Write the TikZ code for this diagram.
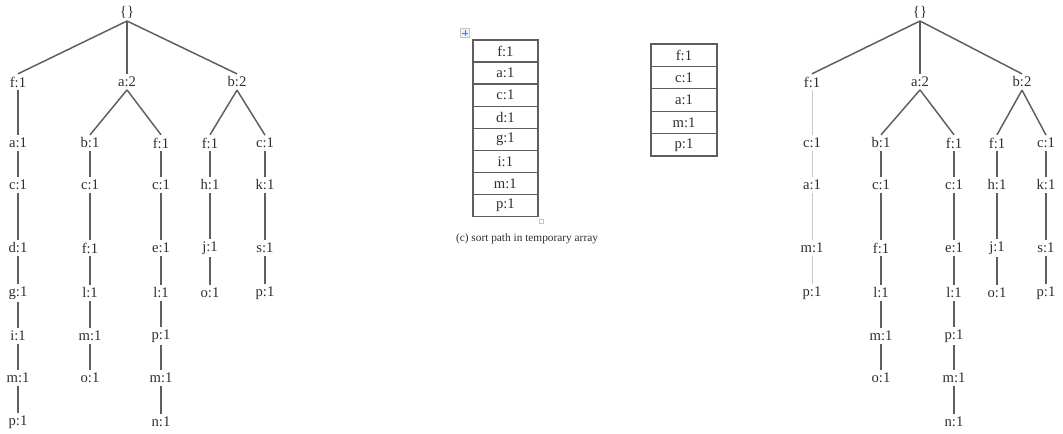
\documentclass[tikz,border=0pt]{standalone}
\usepackage{fontspec}
\setmainfont{Liberation Serif}
\usetikzlibrary{positioning}
\definecolor{LineGray}{HTML}{5E5E5E}
\definecolor{TextGray}{HTML}{2E2E2E}
\definecolor{PaleGray}{HTML}{C6C6C6}
\definecolor{HandleBlue}{HTML}{4A78C8}

\begin{document}
\begin{tikzpicture}[x=0.75pt, y=-0.75pt,
    lbl/.style={font=\fontsize{11}{13}\selectfont, text=TextGray, inner sep=2pt},
    edge/.style={draw=LineGray, line width=1.1pt},
    newedge/.style={draw=PaleGray, line width=0.7pt},
    cell/.style={lbl, draw=LineGray, line width=1pt, minimum width=48.75pt, minimum height=16.6pt},
  ]
  \useasboundingbox (0,0) rectangle (1063,434);
  \def\lvly{{82,143,185,248,293,336,378,422}}

  % left tree
  \node[lbl] (lroot) at (127,12) {\{\}};
  \node[lbl] (la) at (127,82) {a:2};
  \node[lbl] (lb) at (237,82) {b:2};
  \foreach \t [count=\i] in {f:1,a:1,c:1,d:1,g:1,i:1,m:1,p:1}
    {\pgfmathsetmacro\yy{\lvly[\i-1]} \node[lbl] (lA\i) at (18,\yy) {\t};}
  \foreach \t [count=\i from 2] in {b:1,c:1,f:1,l:1,m:1,o:1}
    {\pgfmathsetmacro\yy{\lvly[\i-1]} \node[lbl] (lB\i) at (90,\yy) {\t};}
  \foreach \t [count=\i from 2] in {f:1,c:1,e:1,l:1,p:1,m:1,n:1}
    {\pgfmathsetmacro\yy{\lvly[\i-1]} \node[lbl] (lC\i) at (161,\yy) {\t};}
  \foreach \t [count=\i from 2] in {f:1,h:1,j:1,o:1}
    {\pgfmathsetmacro\yy{\lvly[\i-1]} \node[lbl] (lD\i) at (210,\yy) {\t};}
  \foreach \t [count=\i from 2] in {c:1,k:1,s:1,p:1}
    {\pgfmathsetmacro\yy{\lvly[\i-1]} \node[lbl] (lE\i) at (265,\yy) {\t};}

  \foreach \v in {lA1,la,lb} \draw[edge] (lroot.south) -- (\v.north);
  \foreach \u/\v in {la/lB2,la/lC2,lb/lD2,lb/lE2} \draw[edge] (\u.south) -- (\v.north);
  \foreach \c/\s/\e in {A/1/7,B/2/6,C/2/7,D/2/4,E/2/4}
    {\foreach \i in {\s,...,\e}
      {\pgfmathtruncatemacro\j{\i+1} \draw[edge] (l\c\i.south) -- (l\c\j.north);}}

  % temporary arrays
  \foreach \t [count=\i] in {f:1,a:1,c:1,d:1,g:1,i:1,m:1,p:1}
    \node[cell] (tA\i) at (505.4,{51+22.1*(\i-1)}) {\t};
  \foreach \t [count=\i] in {f:1,c:1,a:1,m:1,p:1}
    \node[cell, minimum width=49.5pt, minimum height=16.8pt] (tB\i) at (684,{55.2+22.4*(\i-1)}) {\t};
  \node[draw=PaleGray, fill=gray!12, minimum size=6.5pt, inner sep=0pt] (move) at (465,33) {};
  \draw[HandleBlue, line width=0.6pt] ([yshift=-1.5pt]move.north) -- ([yshift=1.5pt]move.south)
    ([xshift=1.5pt]move.west) -- ([xshift=-1.5pt]move.east);
  \node[draw=PaleGray, minimum size=3pt, inner sep=0pt] (grip) at (541,221) {};
  \node[font=\fontsize{8.5}{10}\selectfont, text=TextGray] (cap) at (527,239) {(c) sort path in temporary array};

  % right tree
  \node[lbl] (rroot) at (920,12) {\{\}};
  \node[lbl] (ra) at (920,82) {a:2};
  \node[lbl] (rb) at (1022,82) {b:2};
  \foreach \t [count=\i] in {f:1,c:1,a:1,m:1,p:1}
    {\pgfmathsetmacro\yy{\lvly[\i-1]} \node[lbl] (rA\i) at (812,\yy) {\t};}
  \foreach \t [count=\i from 2] in {b:1,c:1,f:1,l:1,m:1,o:1}
    {\pgfmathsetmacro\yy{\lvly[\i-1]} \node[lbl] (rB\i) at (881,\yy) {\t};}
  \foreach \t [count=\i from 2] in {f:1,c:1,e:1,l:1,p:1,m:1,n:1}
    {\pgfmathsetmacro\yy{\lvly[\i-1]} \node[lbl] (rC\i) at (954,\yy) {\t};}
  \foreach \t [count=\i from 2] in {f:1,h:1,j:1,o:1}
    {\pgfmathsetmacro\yy{\lvly[\i-1]} \node[lbl] (rD\i) at (997,\yy) {\t};}
  \foreach \t [count=\i from 2] in {c:1,k:1,s:1,p:1}
    {\pgfmathsetmacro\yy{\lvly[\i-1]} \node[lbl] (rE\i) at (1046,\yy) {\t};}

  \foreach \v in {rA1,ra,rb} \draw[edge] (rroot.south) -- (\v.north);
  \foreach \u/\v in {ra/rB2,ra/rC2,rb/rD2,rb/rE2} \draw[edge] (\u.south) -- (\v.north);
  \foreach \i in {1,...,4}
    {\pgfmathtruncatemacro\j{\i+1} \draw[newedge] (rA\i.south) -- (rA\j.north);}
  \foreach \c/\s/\e in {B/2/6,C/2/7,D/2/4,E/2/4}
    {\foreach \i in {\s,...,\e}
      {\pgfmathtruncatemacro\j{\i+1} \draw[edge] (r\c\i.south) -- (r\c\j.north);}}
\end{tikzpicture}
\end{document}
